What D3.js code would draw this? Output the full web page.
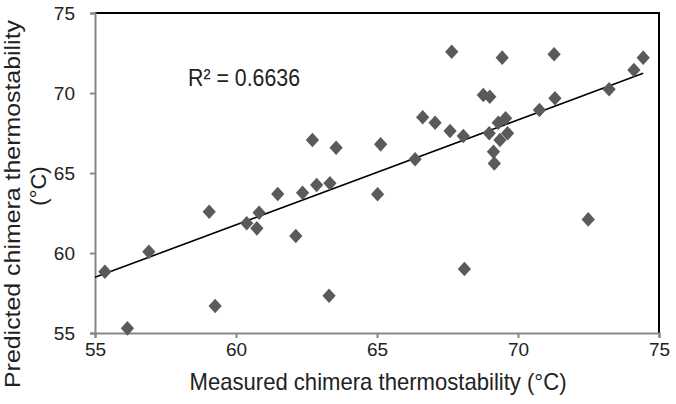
<!DOCTYPE html>
<html>
  <head>
    <meta charset="utf-8">
    <title>thermostability</title>
    <script src="https://d3js.org/d3.v7.min.js"></script>
    <style>
      body { margin: 0; background: #fff; }
      text { font-family: "Liberation Sans", Arial, sans-serif; fill: #222; }
    </style>
  </head>
  <body>
    <div id="chart"></div>
    <script>
      // measured vs predicted thermostability
      var measured = [55.35, 56.15, 56.91, 59.05, 59.26, 60.38, 60.82, 60.74, 61.48, 62.12,
                      62.36, 62.86, 63.33, 62.71, 63.55, 63.30, 65.02, 65.13, 66.35, 66.62,
                      67.06, 67.59, 68.06, 68.10, 67.65, 69.44, 71.28, 68.77, 69.00, 68.98,
                      69.30, 69.56, 69.36, 69.63, 69.13, 69.16, 70.76, 71.31, 73.23, 74.11,
                      74.44, 72.49];
      var predicted = [58.83, 55.29, 60.08, 62.58, 56.69, 61.86, 62.52, 61.54, 63.69, 61.06,
                       63.77, 64.25, 64.36, 67.06, 66.58, 57.33, 63.67, 66.79, 65.86, 68.48,
                       68.14, 67.63, 67.31, 59.00, 72.58, 72.21, 72.42, 69.87, 69.77, 67.48,
                       68.14, 68.42, 67.06, 67.48, 66.33, 65.60, 68.94, 69.67, 70.23, 71.44,
                       72.21, 62.10];
      // excel linear trendline, end points
      var trendX = [55, 74.44];
      var trendY = [58.48, 71.23];
      var xTicks = [55, 60, 65, 70, 75];
      var yTicks = [55, 60, 65, 70, 75];
      var rSquared = "R\u00b2 = 0.6636";

      var width = 676, height = 404;
      var plotLeft = 95, plotRight = 659, plotTop = 13, plotBottom = 333;

      var x = d3.scaleLinear().domain([55, 75]).range([plotLeft, plotRight]);
      var y = d3.scaleLinear().domain([55, 75]).range([plotBottom, plotTop]);

      var svg = d3.select("#chart").append("svg")
        .attr("width", width)
        .attr("height", height);

      // plot area border (top and right are black)
      svg.append("path")
        .attr("d", "M" + plotLeft + "," + plotTop + "H" + plotRight + "V" + plotBottom)
        .attr("fill", "none")
        .attr("stroke", "#000")
        .attr("stroke-width", 2);

      // axes
      var xAxis = svg.append("g")
        .attr("transform", "translate(0," + plotBottom + ")")
        .call(d3.axisBottom(x).tickValues(xTicks).tickSize(5).tickPadding(5).tickFormat(d3.format("d")));
      var yAxis = svg.append("g")
        .attr("transform", "translate(" + plotLeft + ",0)")
        .call(d3.axisLeft(y).tickValues(yTicks).tickSize(5).tickPadding(15).tickFormat(d3.format("d")));

      [xAxis, yAxis].forEach(function(g) {
        g.attr("font-size", null).attr("font-family", null);
        g.select(".domain").attr("stroke", "#878787").attr("stroke-width", 2);
        g.selectAll(".tick line").attr("stroke", "#878787").attr("stroke-width", 2);
        g.selectAll(".tick text")
          .style("font-size", "19px")
          .attr("fill", "#222");
      });

      // trend line
      svg.append("line")
        .attr("x1", x(trendX[0])).attr("y1", y(trendY[0]))
        .attr("x2", x(trendX[1])).attr("y2", y(trendY[1]))
        .attr("stroke", "#000")
        .attr("stroke-width", 1.6);

      // points
      var diamond = d3.symbol().type(d3.symbolDiamond2).size(112);
      svg.selectAll(".pt")
        .data(measured)
        .enter()
        .append("path")
        .attr("class", "pt")
        .attr("d", diamond)
        .attr("transform", function(d, i) {
          return "translate(" + x(d) + "," + y(predicted[i]) + ") scale(1,1.1)";
        })
        .attr("fill", "#5a5a5a");

      // R squared label
      svg.append("text")
        .attr("x", 188)
        .attr("y", 86)
        .attr("textLength", 112)
        .attr("lengthAdjust", "spacingAndGlyphs")
        .style("font-size", "24px")
        .text(rSquared);

      // axis titles
      svg.append("text")
        .attr("x", 378)
        .attr("y", 390)
        .attr("text-anchor", "middle")
        .attr("textLength", 377)
        .attr("lengthAdjust", "spacingAndGlyphs")
        .style("font-size", "24px")
        .text("Measured chimera thermostability (\u00b0C)");

      svg.append("text")
        .attr("transform", "translate(20,204) rotate(-90)")
        .attr("text-anchor", "middle")
        .attr("textLength", 368)
        .attr("lengthAdjust", "spacingAndGlyphs")
        .style("font-size", "22px")
        .text("Predicted chimera thermostability");

      svg.append("text")
        .attr("transform", "translate(46,186) rotate(-90)")
        .attr("text-anchor", "middle")
        .style("font-size", "22px")
        .text("(\u00b0C)");
    </script>
  </body>
</html>
